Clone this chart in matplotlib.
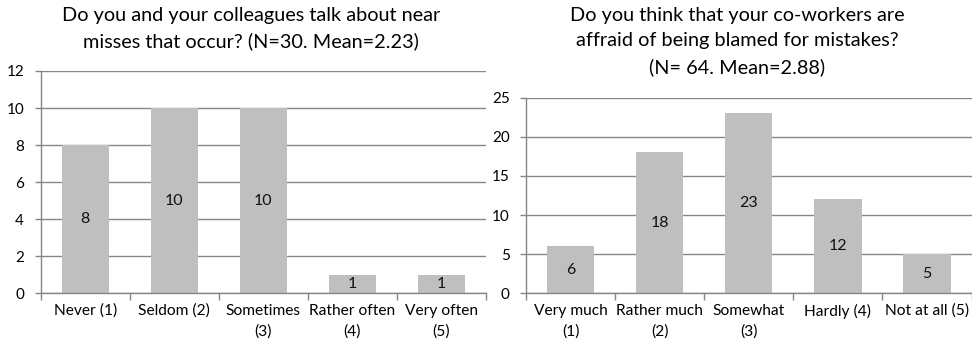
import numpy as np
import matplotlib
matplotlib.use("Agg")
import matplotlib.pyplot as plt

# --- Survey data ---
talk_labels = ["Never (1)", "Seldom (2)", "Sometimes\n(3)", "Rather often\n(4)", "Very often\n(5)"]
talk_counts = [8, 10, 10, 1, 1]
talk_title = "Do you and your colleagues talk about near\nmisses that occur? (N=30. Mean=2.23)"

blame_labels = ["Very much\n(1)", "Rather much\n(2)", "Somewhat\n(3)", "Hardly (4)", "Not at all (5)"]
blame_counts = [6, 18, 23, 12, 5]
blame_title = "Do you think that your co-workers are\naffraid of being blamed for mistakes?\n(N= 64. Mean=2.88)"

BAR_COLOR = "#BFBFBF"
LINE_COLOR = "#868686"
FONT = ["Lato", "DejaVu Sans"]

plt.rcParams["font.family"] = FONT

fig = plt.figure(figsize=(9.72, 3.44), dpi=100)
W, H = 972, 344

def px_axes(x0, y0, x1, y1):
    return fig.add_axes([x0 / W, 1 - y1 / H, (x1 - x0) / W, (y1 - y0) / H])

def draw_panel(ax, labels, counts, ymax, ystep):
    x = np.arange(len(counts))
    ax.bar(x, counts, width=0.53, color=BAR_COLOR, zorder=2)
    for xi, v in zip(x, counts):
        ax.text(xi, v / 2, str(v), ha="center", va="center", fontsize=11.5, color="#111111", zorder=3)
    ax.set_xlim(-0.5, len(counts) - 0.5)
    ax.set_ylim(0, ymax)
    ax.set_yticks(np.arange(0, ymax + 1, ystep))
    ax.yaxis.grid(True, color=LINE_COLOR, linewidth=1.0, zorder=0)
    ax.set_axisbelow(True)
    ax.set_xticks(x)
    ax.set_xticklabels(labels, fontsize=11.2, linespacing=1.6)
    ax.set_xticks(np.arange(-0.5, len(counts), 1.0), minor=True)
    ax.tick_params(axis="x", which="major", length=0, pad=7.5)
    ax.tick_params(axis="x", which="minor", length=5, color=LINE_COLOR, width=1.0)
    ax.tick_params(axis="y", length=4, color=LINE_COLOR, width=1.0, labelsize=11, pad=8)
    for s in ("top", "right"):
        ax.spines[s].set_visible(False)
    for s in ("left", "bottom"):
        ax.spines[s].set_color(LINE_COLOR)
        ax.spines[s].set_linewidth(1.0)

ax1 = px_axes(40.7, 71, 485.7, 293.3)
draw_panel(ax1, talk_labels, talk_counts, 12, 2)
ax2 = px_axes(526.3, 97.7, 971.5, 293.3)
draw_panel(ax2, blame_labels, blame_counts, 25, 5)

fig.text(251 / W, 1 - 7 / H, talk_title, ha="center", va="top", fontsize=14.3, linespacing=1.58)
fig.text(737 / W, 1 - 7 / H, blame_title, ha="center", va="top", fontsize=14.3, linespacing=1.58)

fig.savefig("out.png", dpi=100)
